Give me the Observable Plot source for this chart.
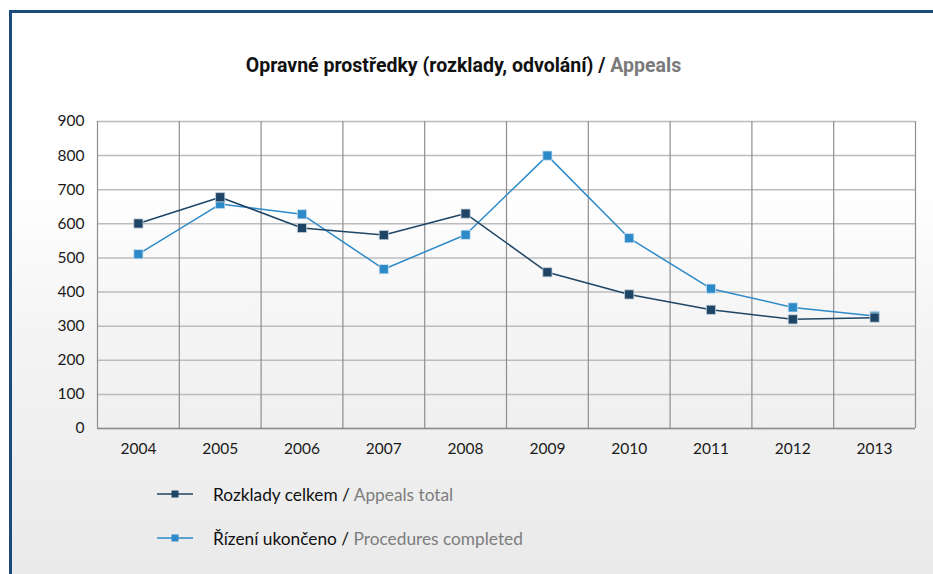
<!DOCTYPE html>
<html>
<head>
<meta charset="utf-8">
<script src="https://cdn.jsdelivr.net/npm/d3@7"></script>
<script src="https://cdn.jsdelivr.net/npm/@observablehq/plot@0.6"></script>
<style>
  html, body { margin: 0; padding: 0; }
  body { width: 933px; height: 574px; overflow: hidden; position: relative; background: #fff; }
  #frame {
    position: absolute; left: 9px; top: 10px; width: 940px; height: 580px;
    border-left: 3px solid #1a4b7c; border-top: 3px solid #1a4b7c;
    background: linear-gradient(to bottom, #ffffff 0%, #ffffff 30%, #f4f4f4 55%, #e9e9e9 100%);
  }
  #title {
    position: absolute; left: 0; top: 55px; width: 927px; text-align: center;
    font-family: Roboto, sans-serif; font-weight: bold; font-size: 19.5px; line-height: 22px; color: #111;
  }
  #title .en { color: #7a7a7a; }
  #chart { position: absolute; left: 0; top: 100px; }
  .leg { position: absolute; left: 157px; height: 20px; display: flex; align-items: center;
    font-family: Lato, sans-serif; font-size: 17.3px; color: #111; }
  .leg svg { margin-right: 20px; }
  .leg .en { color: #7d7d7d; }
</style>
</head>
<body>
<div id="frame"></div>
<div id="title">Opravné prostředky (rozklady, odvolání) / <span class="en">Appeals</span></div>
<div id="chart"></div>
<div id="legend"></div>
<script>
const years = [2004, 2005, 2006, 2007, 2008, 2009, 2010, 2011, 2012, 2013];
const appealsTotal = [601, 678, 588, 567, 630, 458, 393, 348, 320, 325];
const proceduresCompleted = [511, 658, 628, 467, 568, 800, 558, 410, 355, 330];
const yTicks = [0, 100, 200, 300, 400, 500, 600, 700, 800, 900];
const seriesNames = [
  ["Rozklady celkem", "Appeals total"],
  ["Řízení ukončeno", "Procedures completed"]
];
const colors = ["#1f4566", "#2d8ac9"];

const rowsA = years.map((y, i) => ({year: y, value: appealsTotal[i]}));
const rowsB = years.map((y, i) => ({year: y, value: proceduresCompleted[i]}));
const bounds = [years[0] - 0.5, ...years.map(y => y + 0.5)];

const chart = Plot.plot({
  width: 933, height: 370,
  marginTop: 21, marginBottom: 42, marginLeft: 97, marginRight: 18,
  style: {background: "transparent", fontFamily: "Lato, sans-serif", fontSize: "15.5px", color: "#1a1a1a"},
  x: {type: "linear", domain: [years[0] - 0.5, years[years.length - 1] + 0.5], ticks: years, tickFormat: d => String(d), tickSize: 0, tickPadding: 14, label: null},
  y: {domain: [0, 900], ticks: yTicks, tickSize: 0, tickPadding: 13, label: null},
  marks: [
    Plot.ruleY(yTicks, {stroke: "#bcbcbc", strokeWidth: 1.5}),
    Plot.ruleX(bounds, {stroke: "#8e8e8e", strokeWidth: 1.2}),
    Plot.ruleY([0], {stroke: "#8e8e8e", strokeWidth: 1.5}),
    Plot.line(rowsB, {x: "year", y: "value", stroke: colors[1], strokeWidth: 1.5}),
    Plot.dot(rowsB, {x: "year", y: "value", symbol: "square", r: 5.2, fill: colors[1], stroke: "#cfe3f3", strokeWidth: 0.8}),
    Plot.line(rowsA, {x: "year", y: "value", stroke: colors[0], strokeWidth: 1.5}),
    Plot.dot(rowsA, {x: "year", y: "value", symbol: "square", r: 5.2, fill: colors[0], stroke: "#c9d3dc", strokeWidth: 0.8})
  ]
});
document.getElementById("chart").appendChild(chart);

const legend = document.getElementById("legend");
const legTops = [484, 528];
seriesNames.forEach((names, i) => {
  const div = document.createElement("div");
  div.className = "leg";
  div.style.top = legTops[i] + "px";
  div.innerHTML = `<svg width="36" height="12"><line x1="0" x2="36" y1="6" y2="6" stroke="${colors[i]}" stroke-width="1.5"/><rect x="14.5" y="2.5" width="7" height="7" fill="${colors[i]}"/></svg><span>${names[0]} / <span class="en">${names[1]}</span></span>`;
  legend.appendChild(div);
});
</script>
</body>
</html>
